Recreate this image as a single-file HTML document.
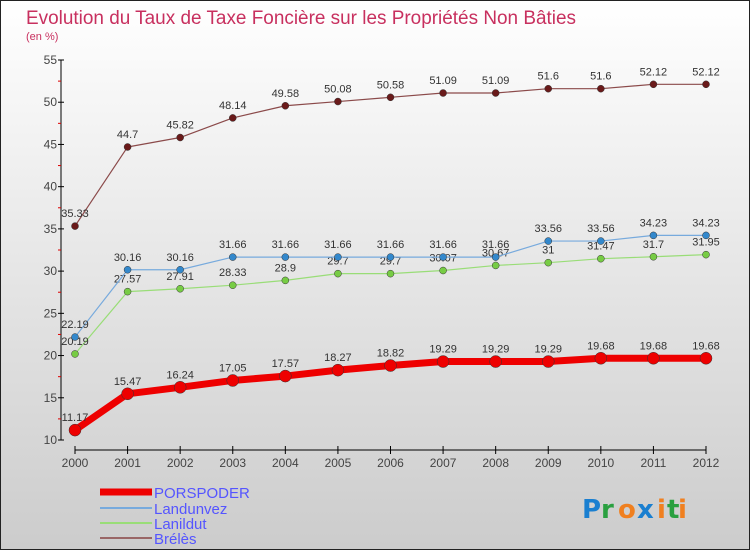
<!DOCTYPE html>
<html><head><meta charset="utf-8"><style>
body{margin:0;width:750px;height:550px;overflow:hidden;font-family:"Liberation Sans",sans-serif}
</style></head><body>
<svg id="chart" width="750" height="550" xmlns="http://www.w3.org/2000/svg">
<defs><linearGradient id="bg" x1="0" y1="0" x2="0" y2="1"><stop offset="0" stop-color="#ffffff"/><stop offset="1" stop-color="#cccccc"/></linearGradient></defs>
<rect x="0.5" y="0.5" width="749" height="549" fill="url(#bg)" stroke="#222"/>
<text x="26" y="24" font-size="19" fill="#c8305f" textLength="550" lengthAdjust="spacingAndGlyphs">Evolution du Taux de Taxe Foncière sur les Propriétés Non Bâties</text>
<text x="26" y="40" font-size="11" fill="#c8305f">(en %)</text>
<g id="axes"></g><g id="series"></g><g id="legend"></g>
<g font-family="DejaVu Sans" font-size="26" font-weight="bold">
<text x="582" y="518" fill="#1a7fd0">P</text><text x="601" y="518" fill="#2aa040">r</text><text x="618" y="518" fill="#f08020">o</text><text x="637" y="518" fill="#1a7fd0">x</text><text x="657" y="518" fill="#f08020">i</text><text x="667" y="518" fill="#2aa040">t</text><text x="678" y="518" fill="#f08020">i</text></g>
</svg>
<script>
const years=[2000,2001,2002,2003,2004,2005,2006,2007,2008,2009,2010,2011,2012];
const porspoder=[11.17,15.47,16.24,17.05,17.57,18.27,18.82,19.29,19.29,19.29,19.68,19.68,19.68];
const landunvez=[22.19,30.16,30.16,31.66,31.66,31.66,31.66,31.66,31.66,33.56,33.56,34.23,34.23];
const lanildut=[20.19,27.57,27.91,28.33,28.9,29.7,29.7,30.07,30.67,31,31.47,31.7,31.95];
const breles=[35.33,44.7,45.82,48.14,49.58,50.08,50.58,51.09,51.09,51.6,51.6,52.12,52.12];
const yTicks=[10,15,20,25,30,35,40,45,50,55];
const NS="http://www.w3.org/2000/svg";
const x=i=>75+i*(706-75)/(years.length-1);
const y=v=>440-(v-10)*380/45;
function mk(p,t,a){const e=document.createElementNS(NS,t);for(const k in a)e.setAttribute(k,a[k]);p.appendChild(e);return e;}
const ax=document.getElementById('axes');
const yl=mk(ax,'line',{x1:61,y1:y(55),x2:61,y2:y(10),stroke:'#000'});

yTicks.forEach(v=>{mk(ax,'line',{x1:58,x2:64,y1:y(v),y2:y(v),stroke:'#000'});
 if(v<55)mk(ax,'line',{x1:58,x2:61,y1:y(v+2.5),y2:y(v+2.5),stroke:'#d00'});
 const t=mk(ax,'text',{x:57,y:y(v)+4,'font-size':12,fill:'#444','text-anchor':'end'});t.textContent=v;
 });
const xl=mk(ax,'line',{x1:75,x2:706,y1:450,y2:450,stroke:'#000'});

years.forEach((yr,i)=>{mk(ax,'line',{x1:x(i),x2:x(i),y1:446,y2:454,stroke:'#000'});
 const t=mk(ax,'text',{x:x(i),y:467,'font-size':12,fill:'#444','text-anchor':'middle'});t.textContent=yr;
 });
const sg=document.getElementById('series');
function series(name,data,color,w,r,dot,labels){
 const g=mk(sg,'g',{});
 const l=mk(g,'polyline',{points:data.map((v,i)=>x(i)+','+y(v)).join(' '),fill:'none',stroke:color,'stroke-width':w,'stroke-linejoin':'round'});
 
 data.forEach((v,i)=>{const c=mk(g,'circle',{cx:x(i),cy:y(v),r:r,fill:dot,stroke:'#333','stroke-width':0.5});
  
  if(labels){const t=mk(g,'text',{x:x(i),y:y(v)-9,'font-size':11,fill:'#333','text-anchor':'middle'});t.textContent=v;
  }});
}
series('breles',breles,'#8b4a4a',1.2,3.5,'#6a1a1a',true);
series('lanildut',lanildut,'#99dd77',1.2,3.5,'#77cc44',true);
series('landunvez',landunvez,'#77aadd',1.2,3.5,'#3388cc',true);
series('porspoder',porspoder,'#ee0000',7,6,'#ee0000',true);
const lg=document.getElementById('legend');
[['PORSPODER','#ee0000',7,492],['Landunvez','#77aadd',2,508],['Lanildut','#99dd77',2,523],['Brélès','#996666',2,538]].forEach(([n,c,w,yy])=>{
 const g=mk(lg,'g',{});
 mk(g,'line',{x1:100,x2:152,y1:yy,y2:yy,stroke:c,'stroke-width':w});
 const t=mk(g,'text',{x:154,y:yy+6,'font-size':15,fill:'#5555ff'});t.textContent=n;});
</script>
</body></html>
